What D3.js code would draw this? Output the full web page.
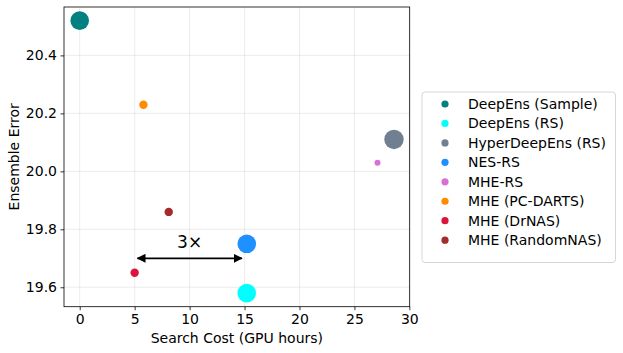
<!DOCTYPE html>
<html><head><meta charset="utf-8">
<script src="https://cdn.jsdelivr.net/npm/d3@7"></script>
<style>body{margin:0;background:#fff;} svg{font-family:"DejaVu Sans",sans-serif;}</style>
</head><body><svg id="c" width="623" height="353"></svg>
<script>
const methods = ["DeepEns (Sample)","DeepEns (RS)","HyperDeepEns (RS)","NES-RS","MHE-RS","MHE (PC-DARTS)","MHE (DrNAS)","MHE (RandomNAS)"];
const costs = [0, 15.2, 28.6, 15.2, 27.1, 5.8, 5.0, 8.1];
const errors = [20.52, 19.58, 20.11, 19.75, 20.03, 20.23, 19.65, 19.86];
const sizes = [9.3, 9.3, 9.7, 9.3, 3, 4.2, 4.2, 4.2];
const colors = ["#008080","#00ffff","#708090","#1e90ff","#da70d6","#ff8c00","#dc143c","#a52a2a"];
const xTicks = [0,5,10,15,20,25,30];
const yTicks = [19.6,19.8,20.0,20.2,20.4];

const svg = d3.select("#c");
const L=64, T=7, R=409.7, B=306.7;
const x = d3.scaleLinear().domain([-1.43, 30.03]).range([L, R]);
const y = d3.scaleLinear().domain([19.533, 20.567]).range([B, T]);

// grid
svg.append("g").selectAll("line").data(xTicks).join("line")
  .attr("x1",d=>x(d)).attr("x2",d=>x(d)).attr("y1",T).attr("y2",B)
  .attr("stroke","#b0b0b0").attr("stroke-opacity",0.3).attr("stroke-width",0.8);
svg.append("g").selectAll("line").data(yTicks).join("line")
  .attr("y1",d=>y(d)).attr("y2",d=>y(d)).attr("x1",L).attr("x2",R)
  .attr("stroke","#b0b0b0").attr("stroke-opacity",0.3).attr("stroke-width",0.8);

// points
svg.append("g").selectAll("circle").data(methods).join("circle")
  .attr("cx",(d,i)=>x(costs[i])).attr("cy",(d,i)=>y(errors[i]))
  .attr("r",(d,i)=>sizes[i]).attr("fill",(d,i)=>colors[i]);

// arrow
const defs = svg.append("defs");
defs.append("marker").attr("id","ah").attr("viewBox","0 0 10 10").attr("refX",9).attr("refY",5)
  .attr("markerWidth",5).attr("markerHeight",5).attr("orient","auto-start-reverse")
  .append("path").attr("d","M0,0 L10,5 L0,10 z").attr("fill","#000");
svg.append("line").attr("x1",x(5.25)).attr("x2",x(14.75)).attr("y1",y(19.7)).attr("y2",y(19.7))
  .attr("stroke","#000").attr("stroke-width",1.8)
  .attr("marker-start","url(#ah)").attr("marker-end","url(#ah)");
svg.append("text").attr("x",x(10)).attr("y",y(19.755)).attr("text-anchor","middle")
  .attr("dominant-baseline","central").attr("font-size",17).text("3×");

// axes
const xa = svg.append("g").attr("transform",`translate(0,${B})`)
  .call(d3.axisBottom(x).tickValues(xTicks).tickSize(3.5).tickPadding(3.5).tickFormat(d3.format("d")));
const ya = svg.append("g").attr("transform",`translate(${L},0)`)
  .call(d3.axisLeft(y).tickValues(yTicks).tickSize(3.5).tickPadding(3.5).tickFormat(d3.format(".1f")));
[xa,ya].forEach(a=>{a.select(".domain").remove(); a.selectAll("text").attr("font-size",14).attr("font-family","DejaVu Sans").attr("fill","#000"); a.selectAll("line").attr("stroke","#000").attr("stroke-width",0.8);});
svg.append("rect").attr("x",L).attr("y",T).attr("width",R-L).attr("height",B-T)
  .attr("fill","none").attr("stroke","#000").attr("stroke-width",0.8);

svg.append("text").attr("x",(L+R)/2).attr("y",343).attr("text-anchor","middle").attr("font-size",14).text("Search Cost (GPU hours)");
svg.append("text").attr("transform",`translate(19,${(T+B)/2}) rotate(-90)`).attr("text-anchor","middle").attr("font-size",14).text("Ensemble Error");

// legend
const lg = svg.append("g");
lg.append("rect").attr("x",422).attr("y",92).attr("width",193.5).attr("height",170.5).attr("rx",3)
  .attr("fill","#fff").attr("stroke","#cccccc").attr("stroke-width",0.8);
const items = lg.selectAll("g.it").data(methods).join("g").attr("class","it")
  .attr("transform",(d,i)=>`translate(0,${104+i*19.45})`);
items.append("circle").attr("cx",445).attr("cy",0).attr("r",3.6).attr("fill",(d,i)=>colors[i]);
items.append("text").attr("x",468).attr("y",0).attr("dominant-baseline","central").attr("font-size",14).text(d=>d);
</script></body></html>
